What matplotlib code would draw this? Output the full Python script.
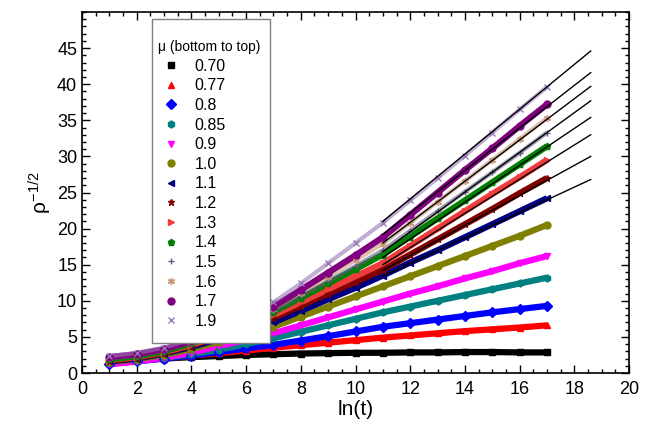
import matplotlib
matplotlib.use("Agg")
import matplotlib.pyplot as plt
from matplotlib.lines import Line2D
from matplotlib.patches import Rectangle
from matplotlib.ticker import MultipleLocator

plt.rcParams['font.family'] = ['Liberation Sans', 'DejaVu Sans']
plt.rcParams['mathtext.fontset'] = 'custom'
plt.rcParams['mathtext.rm'] = 'Liberation Sans'
plt.rcParams['mathtext.it'] = 'Liberation Sans'

# ---- data ----
lnt = [1, 2, 3, 4, 5, 6, 7, 8, 9, 10, 11, 12, 13, 14, 15, 16, 17]
mu_labels = ["0.70", "0.77", "0.8", "0.85", "0.9", "1.0", "1.1", "1.2",
             "1.3", "1.4", "1.5", "1.6", "1.7", "1.9"]
y_070 = [1.5, 1.8, 2.0, 2.2, 2.35, 2.5, 2.6, 2.7, 2.75, 2.8, 2.8, 2.85, 2.85, 2.9, 2.9, 2.85, 2.85]
y_077 = [1.4, 1.7, 2.0, 2.4, 2.75, 3.1, 3.5, 3.85, 4.2, 4.55, 4.9, 5.2, 5.5, 5.8, 6.05, 6.3, 6.6]
y_080 = [1.3, 1.6, 2.0, 2.4, 2.9, 3.4, 3.9, 4.5, 5.1, 5.75, 6.4, 6.9, 7.4, 7.9, 8.4, 8.85, 9.3]
y_085 = [1.4, 1.7, 2.1, 2.6, 3.2, 4.0, 4.8, 5.7, 6.6, 7.5, 8.4, 9.2, 10.0, 10.8, 11.6, 12.4, 13.2]
y_090 = [1.2, 1.6, 2.1, 2.8, 3.7, 4.6, 5.5, 6.6, 7.7, 8.8, 9.9, 11.0, 12.0, 13.1, 14.1, 15.2, 16.2]
y_100 = [1.5, 1.9, 2.5, 3.3, 4.3, 5.3, 6.4, 7.8, 9.2, 10.6, 12.0, 13.4, 14.8, 16.2, 17.6, 19.0, 20.5]
y_110 = [1.6, 2.0, 2.7, 3.6, 4.7, 5.8, 7.0, 8.6, 10.2, 11.8, 13.5, 15.3, 17.0, 18.8, 20.6, 22.4, 24.2]
y_120 = [1.7, 2.1, 2.8, 3.8, 5.0, 6.3, 7.6, 9.3, 11.0, 12.6, 14.3, 16.4, 18.5, 20.6, 22.7, 24.9, 27.0]
y_130 = [1.8, 2.2, 2.9, 3.9, 5.2, 6.6, 8.0, 9.8, 11.6, 13.4, 15.2, 17.6, 20.0, 22.4, 24.8, 27.1, 29.5]
y_140 = [1.9, 2.3, 3.0, 4.1, 5.4, 6.9, 8.5, 10.4, 12.4, 14.4, 16.4, 18.9, 21.4, 23.9, 26.4, 28.9, 31.4]
y_150 = [2.0, 2.4, 3.1, 4.2, 5.6, 7.0, 8.6, 10.6, 12.7, 14.8, 17.0, 19.7, 22.4, 25.1, 27.8, 30.5, 33.3]
y_160 = [2.1, 2.5, 3.2, 4.3, 5.7, 7.2, 8.9, 11.1, 13.3, 15.6, 17.9, 20.8, 23.7, 26.6, 29.5, 32.4, 35.3]
y_170 = [2.2, 2.6, 3.3, 4.4, 5.8, 7.4, 9.2, 11.5, 13.9, 16.3, 18.8, 21.9, 25.0, 28.1, 31.1, 34.2, 37.2]
y_190 = [2.3, 2.8, 3.5, 4.7, 6.1, 7.8, 9.8, 12.4, 15.2, 18.0, 20.8, 23.9, 27.0, 30.1, 33.3, 36.5, 39.6]

# linear fits (mu = 1.1 ... 1.9), from ln(t)=11 to 18.6
fit_x = [11.0, 18.6]
fit_y_start = [13.4, 14.2, 15.0, 16.0, 16.8, 18.0, 19.2, 21.0]
fit_y_end = [26.8, 30.0, 33.0, 35.4, 37.7, 39.7, 41.6, 44.6]

series = [y_070, y_077, y_080, y_085, y_090, y_100, y_110, y_120,
          y_130, y_140, y_150, y_160, y_170, y_190]
colors = ["#000000", "#ff0000", "#0000ff", "#008080", "#ff00ff", "#808000",
          "#000080", "#800000", "#f03c3c", "#008000", "#5c5c80", "#c89678",
          "#800080", "#9a78b4"]
markers = ["s", "^", "D", "h", "v", "o", "<", "*", ">", "p", "+", (6, 2, 0), "o", "x"]
filled = [True] * 10 + [False, False, True, False]

fig = plt.figure(figsize=(6.57, 4.29), dpi=100)
ax = fig.add_axes([82 / 657, 56 / 429, 547 / 657, 361 / 429])

for ys, c, m, f in zip(series, colors, markers, filled):
    lw = 4.5 if f else 3.0
    al = 1.0 if f else 0.6
    ax.plot(lnt, ys, color=c, lw=lw, alpha=al, solid_capstyle='butt', zorder=2)
    ax.plot(lnt, ys, linestyle='none', marker=m, color=c, markersize=5,
            markeredgewidth=1.0, zorder=3)

for y0, y1 in zip(fit_y_start, fit_y_end):
    ax.plot(fit_x, [y0, y1], color='black', lw=1.0, zorder=4)

ax.set_xlim(0, 20)
ax.set_ylim(0, 50)
ax.xaxis.set_major_locator(MultipleLocator(2))
ax.xaxis.set_minor_locator(MultipleLocator(0.5))
ax.yaxis.set_major_locator(MultipleLocator(5))
ax.yaxis.set_minor_locator(MultipleLocator(1))
ax.set_yticks([0, 5, 10, 15, 20, 25, 30, 35, 40, 45])
ax.tick_params(which='both', direction='in', top=True, right=True,
               labelsize=13, width=1)
ax.tick_params(axis='x', which='major', pad=6)
ax.tick_params(which='major', length=6)
ax.tick_params(which='minor', length=3)
for s in ax.spines.values():
    s.set_linewidth(1.2)

ax.set_xlabel("ln(t)", fontsize=15, labelpad=1)
ax.set_ylabel(r"$\rho^{-1/2}$", fontsize=15, labelpad=2)

# legend box (white, gray frame) drawn as a patch in figure pixels
box = Rectangle((152 / 657, (429 - 343) / 429), 118 / 657, 324 / 429,
                transform=fig.transFigure, facecolor='white',
                edgecolor='#808080', lw=1.0, zorder=9)
ax.add_artist(box)
box.set_clip_on(False)

handles = [Line2D([], [], linestyle='none', marker=m, color=c, markersize=5,
                  markeredgewidth=1.0)
           for c, m in zip(colors, markers)]
leg = ax.legend(handles, mu_labels, title="\n\u03bc (bottom to top)",
                loc='upper left', bbox_to_anchor=(71 / 547, 354 / 361),
                fontsize=11.5, title_fontsize=10, frameon=False,
                borderpad=0.3, labelspacing=0.29, handletextpad=0.7,
                handlelength=1.6, borderaxespad=0)
leg._legend_box.align = "left"
leg.set_zorder(10)

fig.savefig("out.png", dpi=100)
